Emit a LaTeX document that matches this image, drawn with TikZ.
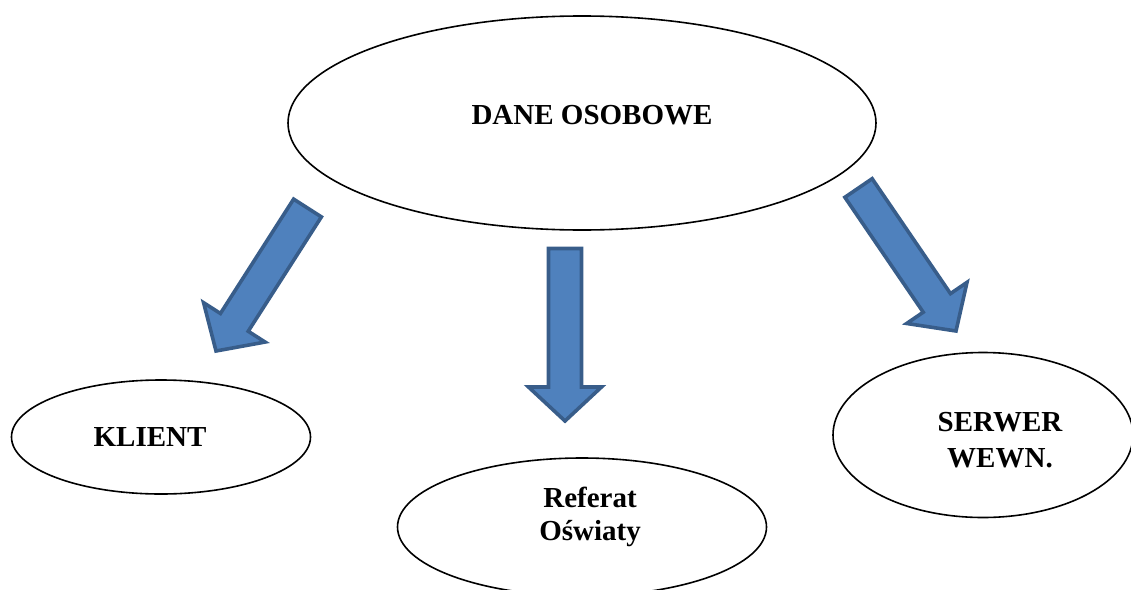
\documentclass[tikz,border=0pt]{standalone}
\usepackage{fontspec}
\setmainfont{Liberation Serif}
\usetikzlibrary{shapes.geometric,calc}

\definecolor{arrowfill}{HTML}{4F81BD}
\definecolor{arrowline}{HTML}{385D8A}

\tikzset{
  bubble/.style={ellipse, draw=black, line width=1.6pt, inner sep=0pt, fill=white},
  caption/.style={font=\bfseries\fontsize{29}{30}\selectfont, align=center, inner sep=0pt},
  blockarrow/.style={fill=arrowfill, draw=arrowline, line width=3.6pt, line join=miter},
}

% Block arrow from tail centre #1 to tip #2
\newcommand\blockarrow[2]{%
  \coordinate (h) at ($(#2)!34pt!(#1)$);
  \draw[blockarrow]
    ($(#1)!16.5pt!90:(#2)$) -- ($(h)!16.5pt!90:(#2)$) -- ($(h)!36.5pt!90:(#2)$)
    -- (#2)
    -- ($(h)!36.5pt!-90:(#2)$) -- ($(h)!16.5pt!-90:(#2)$) -- ($(#1)!16.5pt!-90:(#2)$)
    -- cycle;
}

\begin{document}
\begin{tikzpicture}[x=1pt, y=-1pt]
  \useasboundingbox (0,0) rectangle (1131,589);
  \clip (0,0) rectangle (1131,589);

  % data sources and recipients
  \node[bubble, minimum width=588pt, minimum height=214pt,
        label={[caption, xshift=10pt, yshift=8pt]center:DANE OSOBOWE}] (dane) at (582,123) {};
  \node[bubble, minimum width=299pt, minimum height=114pt,
        label={[caption, xshift=-11pt]center:KLIENT}] (klient) at (161,437) {};
  \node[bubble, minimum width=369pt, minimum height=138pt,
        label={[caption, xshift=8pt, yshift=10pt, font=\bfseries\fontsize{29}{33}\selectfont]center:Referat\\Oświaty}] (referat) at (582,527) {};
  \node[bubble, minimum width=300pt, minimum height=165pt,
        label={[caption, xshift=17pt, yshift=-5pt, font=\bfseries\fontsize{29}{36}\selectfont]center:SERWER\\WEWN.}] (serwer) at (983,435) {};

  % flow arrows
  \coordinate (l0) at (307.5,208);
  \coordinate (l1) at (216,351);
  \coordinate (m0) at (565,248.5);
  \coordinate (m1) at (565,421);
  \coordinate (r0) at (858.5,188);
  \coordinate (r1) at (956,331);
  \blockarrow{l0}{l1}
  \blockarrow{m0}{m1}
  \blockarrow{r0}{r1}
\end{tikzpicture}
\end{document}
